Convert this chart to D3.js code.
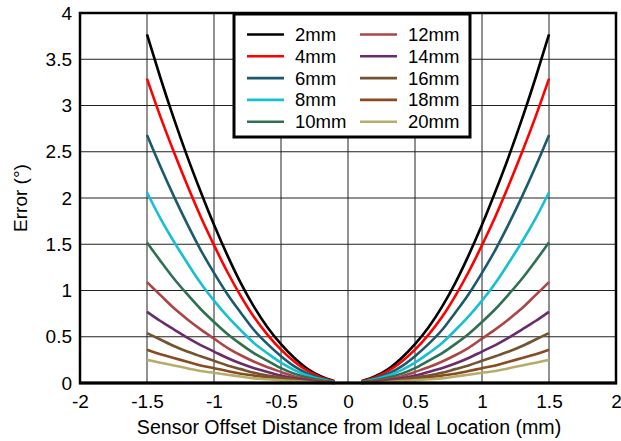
<!DOCTYPE html>
<html><head><meta charset="utf-8">
<script src="https://cdn.jsdelivr.net/npm/d3@7"></script>
<style>body{margin:0;background:#fff}svg{display:block;font-family:"Liberation Sans",Arial,sans-serif}</style>
</head><body><svg id="c" width="621" height="441"></svg>
<script>
// offsets (mm), positive side; curve is symmetric about 0
const offsets = [0.1,0.2,0.3,0.4,0.5,0.6,0.7,0.8,0.9,1.0,1.1,1.2,1.3,1.4,1.5];
const seriesNames = ["2mm","4mm","6mm","8mm","10mm","12mm","14mm","16mm","18mm","20mm"];
const err2mm  = [0.02,0.07,0.15,0.27,0.42,0.60,0.82,1.08,1.38,1.71,2.07,2.45,2.86,3.30,3.77];
const err4mm  = [0.02,0.06,0.13,0.23,0.36,0.52,0.71,0.94,1.20,1.49,1.80,2.14,2.50,2.88,3.29];
const err6mm  = [0.01,0.05,0.10,0.18,0.29,0.42,0.57,0.76,0.96,1.19,1.44,1.72,2.02,2.34,2.68];
const err8mm  = [0.01,0.04,0.08,0.14,0.22,0.32,0.43,0.57,0.72,0.89,1.08,1.30,1.53,1.78,2.06];
const err10mm = [0.01,0.03,0.06,0.10,0.16,0.24,0.32,0.42,0.53,0.66,0.80,0.96,1.13,1.32,1.52];
const err12mm = [0.00,0.02,0.04,0.07,0.12,0.17,0.23,0.30,0.38,0.48,0.58,0.69,0.81,0.95,1.09];
const err14mm = [0.00,0.01,0.03,0.05,0.08,0.12,0.16,0.21,0.27,0.34,0.41,0.49,0.58,0.67,0.77];
const err16mm = [0.00,0.01,0.02,0.04,0.06,0.08,0.11,0.15,0.19,0.24,0.29,0.34,0.40,0.47,0.54];
const err18mm = [0.00,0.01,0.01,0.03,0.04,0.06,0.08,0.10,0.13,0.16,0.19,0.23,0.27,0.31,0.36];
const err20mm = [0.00,0.00,0.01,0.02,0.03,0.04,0.05,0.07,0.09,0.11,0.13,0.16,0.19,0.22,0.25];
const seriesValues = [err2mm,err4mm,err6mm,err8mm,err10mm,err12mm,err14mm,err16mm,err18mm,err20mm];
const colors = ["#000000","#ff0000","#1b5a6c","#17bfd2","#2e7052","#a94646","#6a2c6c","#725430","#8a4a22","#b5ae6a"];
const xTicks = [-2,-1.5,-1,-0.5,0,0.5,1,1.5,2];
const yTicks = [0,0.5,1,1.5,2,2.5,3,3.5,4];
const xTickLabels = ["-2","-1.5","-1","-0.5","0","0.5","1","1.5","2"];
const yTickLabels = ["0","0.5","1","1.5","2","2.5","3","3.5","4"];

const svg = d3.select("#c");
const L=80, R=616, T=13, B=383;
const FS = 19;
const x = d3.scaleLinear().domain([-2,2]).range([L,R]);
const y = d3.scaleLinear().domain([0,4]).range([B,T]);

// grid
const g = svg.append("g");
g.selectAll("line.vx").data(xTicks.slice(1,-1)).join("line")
 .attr("x1",d=>x(d)).attr("x2",d=>x(d)).attr("y1",T).attr("y2",B)
 .attr("stroke","#222").attr("stroke-width",1);
g.selectAll("line.hy").data(yTicks.slice(1,-1)).join("line")
 .attr("y1",d=>y(d)).attr("y2",d=>y(d)).attr("x1",L).attr("x2",R)
 .attr("stroke","#222").attr("stroke-width",1);

// lines
seriesValues.forEach((vals,i)=>{
  const left = offsets.map((o,j)=>[-o,vals[j]]).reverse();
  const right = offsets.map((o,j)=>[o,vals[j]]);
  [left,right].forEach(pts=>{
    svg.append("path").attr("d",d3.line().curve(d3.curveMonotoneX).x(d=>x(d[0])).y(d=>y(d[1]))(pts))
      .attr("fill","none").attr("stroke",colors[i]).attr("stroke-width",2.6);
  });
});

// frame
svg.append("rect").attr("x",L).attr("y",T).attr("width",R-L).attr("height",B-T)
  .attr("fill","none").attr("stroke","#000").attr("stroke-width",2.5);
svg.append("line").attr("x1",L-1).attr("x2",R+1).attr("y1",B).attr("y2",B).attr("stroke","#000").attr("stroke-width",3.2);

// axes (tick labels via d3 axes)
const xAxis = d3.axisBottom(x).tickValues(xTicks).tickFormat((d,i)=>xTickLabels[i]).tickSize(0).tickPadding(12);
const ax = svg.append("g").attr("transform",`translate(0,${B})`).call(xAxis);
ax.select(".domain").remove();
ax.selectAll("text").attr("font-size",FS).attr("fill","#000").attr("font-family","Liberation Sans, Arial, sans-serif");
const yAxis = d3.axisLeft(y).tickValues(yTicks).tickFormat((d,i)=>yTickLabels[i]).tickSize(0).tickPadding(8);
const ay = svg.append("g").attr("transform",`translate(${L},0)`).call(yAxis);
ay.select(".domain").remove();
ay.selectAll("text").attr("font-size",FS).attr("fill","#000").attr("font-family","Liberation Sans, Arial, sans-serif");

svg.append("text").attr("x",349).attr("y",434).attr("text-anchor","middle")
  .attr("font-size",19.6).text("Sensor Offset Distance from Ideal Location (mm)");
svg.append("text").attr("transform",`translate(27,${(T+B)/2}) rotate(-90)`).attr("text-anchor","middle")
  .attr("font-size",FS).text("Error (°)");

// legend
const lg = svg.append("g");
lg.append("rect").attr("x",234).attr("y",14).attr("width",236).attr("height",123)
  .attr("fill","#fff").attr("stroke","#000").attr("stroke-width",3);
seriesNames.forEach((n,i)=>{
  const col = Math.floor(i/5), row = i%5;
  const lx = 247 + col*113, ly = 34.5 + row*21.8;
  lg.append("line").attr("x1",lx).attr("x2",lx+37).attr("y1",ly).attr("y2",ly)
    .attr("stroke",colors[i]).attr("stroke-width",2.6);
  lg.append("text").attr("x",lx+48).attr("y",ly+6.5).attr("font-size",18.5).text(n);
});
</script></body></html>
